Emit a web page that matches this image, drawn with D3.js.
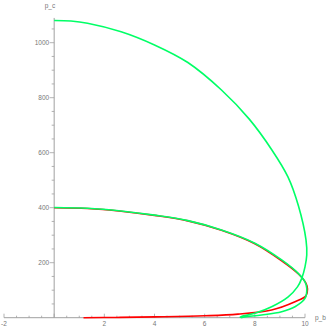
<!DOCTYPE html>
<html><head><meta charset="utf-8">
<script src="https://cdn.jsdelivr.net/npm/d3@7"></script>
<style>body{margin:0;background:#fff}svg{display:block}</style>
</head><body>
<script>
// Outer green curve
const outerX = [0, 0.67, 1.33, 2.67, 4.0, 5.33, 6.67, 7.77, 8.68, 9.32, 9.74, 10.04, 10.07, 10.0, 9.87, 9.7, 9.33, 8.67, 8.0, 7.47, 7.4];
const outerY = [1081, 1079, 1071, 1040, 992, 928, 828, 723, 610, 512, 406, 283, 228, 185, 143, 112, 76, 40, 16, 4, 0];
// Inner green curve
const innerX = [0, 1.33, 2.67, 4.0, 5.33, 6.67, 8.0, 9.07, 9.73, 10.0, 10.07, 10.0, 9.6, 9.07, 8.27, 7.6, 7.45];
const innerY = [401, 398, 388, 373, 353, 319, 271, 210, 161, 130, 107, 70, 40, 22, 10, 3, 0];
// Red curve
const redX = [0, 1.33, 2.67, 4.0, 5.33, 6.67, 8.0, 9.07, 9.75, 10.04, 10.1, 10.04, 9.6, 8.67, 7.33, 6.0, 4.0, 2.5, 1.17];
const redY = [400, 397, 387, 372, 352, 318, 269, 207, 158, 125, 104, 80, 58, 28, 13, 7, 3, 1, 0];

const xMajor = [-2, 2, 4, 6, 8, 10];
const yMajor = [200, 400, 600, 800, 1000];

const W = 327, H = 327;
const svg = d3.select("body").append("svg").attr("width", W).attr("height", H);
const x = d3.scaleLinear().domain([-2, 10]).range([4, 305]);
const y = d3.scaleLinear().domain([0, 1000]).range([317.7, 42.7]);
const axisCol = "#a0a0a0";
const font = "Liberation Sans, Arial, sans-serif";

// axes lines
svg.append("line").attr("x1", x(-2)).attr("x2", x(10)).attr("y1", y(0)).attr("y2", y(0))
  .attr("stroke", axisCol).attr("stroke-width", 1);
svg.append("line").attr("x1", x(0)).attr("x2", x(0)).attr("y1", y(0)).attr("y2", y(1090))
  .attr("stroke", axisCol).attr("stroke-width", 1);

// x ticks
const xMinor = d3.range(-2, 10.001, 0.5);
svg.selectAll(".xm").data(xMinor).enter().append("line")
  .attr("x1", d => x(d)).attr("x2", d => x(d))
  .attr("y1", y(0)).attr("y2", d => y(0) - (Math.abs(d % 2) < 1e-9 ? 4 : 2))
  .attr("stroke", axisCol).attr("stroke-width", 0.8);
svg.selectAll(".xl").data(xMajor).enter().append("text")
  .attr("x", d => x(d)).attr("y", y(0) + 8)
  .attr("text-anchor", "middle").attr("font-family", font).attr("font-size", 6.5)
  .attr("fill", "#777").text(d => d);

// y ticks
const yMinor = d3.range(50, 1090, 50);
svg.selectAll(".ym").data(yMinor).enter().append("line")
  .attr("x1", x(0)).attr("x2", d => x(0) - (d % 200 === 0 ? 4.5 : 2.5))
  .attr("y1", d => y(d)).attr("y2", d => y(d))
  .attr("stroke", axisCol).attr("stroke-width", 0.8);
svg.selectAll(".yl").data(yMajor).enter().append("text")
  .attr("x", x(0) - 5).attr("y", d => y(d) + 2.3)
  .attr("text-anchor", "end").attr("font-family", font).attr("font-size", 6.5)
  .attr("fill", "#777").text(d => d);

// axis labels
svg.append("text").attr("x", 50).attr("y", 8).attr("text-anchor", "middle")
  .attr("font-family", font).attr("font-size", 6.5).attr("fill", "#777").text("p_c");
svg.append("text").attr("x", 315).attr("y", 320).attr("text-anchor", "start")
  .attr("font-family", font).attr("font-size", 6.5).attr("fill", "#777").text("p_b");

const line = d3.line().x(d => x(d[0])).y(d => y(d[1])).curve(d3.curveCatmullRom.alpha(0.5));
const zipP = (a, b) => a.map((v, i) => [v, b[i]]);

svg.append("path").datum(zipP(redX, redY)).attr("d", line)
  .attr("fill", "none").attr("stroke", "#ff0000").attr("stroke-width", 1.6);
svg.append("path").datum(zipP(innerX, innerY)).attr("d", line)
  .attr("fill", "none").attr("stroke", "#00ff66").attr("stroke-width", 1.6);
svg.append("path").datum(zipP(outerX, outerY)).attr("d", line)
  .attr("fill", "none").attr("stroke", "#00ff66").attr("stroke-width", 1.6);
</script>
</body></html>
